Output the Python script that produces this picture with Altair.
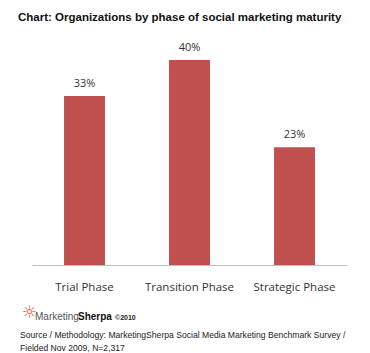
import altair as alt
import pandas as pd

categories = ["Trial Phase", "Transition Phase", "Strategic Phase"]
values = [33, 40, 23]
labels = ["33%", "40%", "23%"]

title_text = "Chart: Organizations by phase of social marketing maturity"
logo_a = "Marketing"
logo_b = "Sherpa"
logo_c = "©2010"
source_1 = "Source / Methodology: MarketingSherpa Social Media Marketing Benchmark Survey /"
source_2 = "Fielded Nov 2009, N=2,317"

df = pd.DataFrame({"cat": categories, "val": values, "lab": labels})

W, H = 315, 205
PAD_L, PAD_T = 32, 60

x = alt.X("cat:N", sort=categories, title=None,
          scale=alt.Scale(paddingInner=0.61, paddingOuter=0.305),
          axis=alt.Axis(labelAngle=0, ticks=False, labelPadding=16, labelFontSize=11.5,
                        labelFont="Open Sans", labelColor="#333333",
                        domainColor="#bdbdbd", domainWidth=1))
y = alt.Y("val:Q", title=None, scale=alt.Scale(domain=[0, 40], nice=False), axis=None)

bars = alt.Chart(df).mark_bar(color="#C0504D").encode(x=x, y=y)
text = alt.Chart(df).mark_text(dy=-12, fontSize=11, font="Open Sans", color="#333333").encode(
    x=alt.X("cat:N", sort=categories), y="val:Q", text="lab:N")

def footer(t, xp, yp, **kw):
    return alt.Chart(pd.DataFrame({"t": [t]})).mark_text(align="left", baseline="alphabetic", **kw).encode(
        x=alt.value(xp - PAD_L), y=alt.value(yp - PAD_T), text="t:N")

sun = footer("☼", 22, 318, font="DejaVu Sans", fontSize=17, color="#E0602A")
f1 = footer(logo_a, 35, 320, font="Liberation Sans", fontSize=10, color="#555555")
f2 = footer(logo_b, 78, 320, font="Liberation Sans", fontSize=10, fontWeight="bold", color="#111111")
f3 = footer(logo_c, 115, 320, font="Liberation Sans", fontSize=7, fontWeight="bold", color="#222222")
s1 = footer(source_1, 20, 338, font="Liberation Sans", fontSize=8.6, color="#222222")
s2 = footer(source_2, 20, 351, font="Liberation Sans", fontSize=8.6, color="#222222")

chart = alt.layer(bars, text, sun, f1, f2, f3, s1, s2).properties(
    width=W, height=H,
    background="white",
    autosize=alt.AutoSizeParams(type="none"),
    padding={"left": PAD_L, "top": PAD_T, "right": 370 - PAD_L - W, "bottom": 353 - PAD_T - H},
    title=alt.TitleParams(title_text, anchor="start", frame="group", dx=-14, offset=19,
                          font="Liberation Sans", fontSize=11.5, fontWeight="bold", color="#111111"),
).configure_view(stroke=None)

chart.save("out.html", embed_options={"renderer": "svg", "actions": False})
